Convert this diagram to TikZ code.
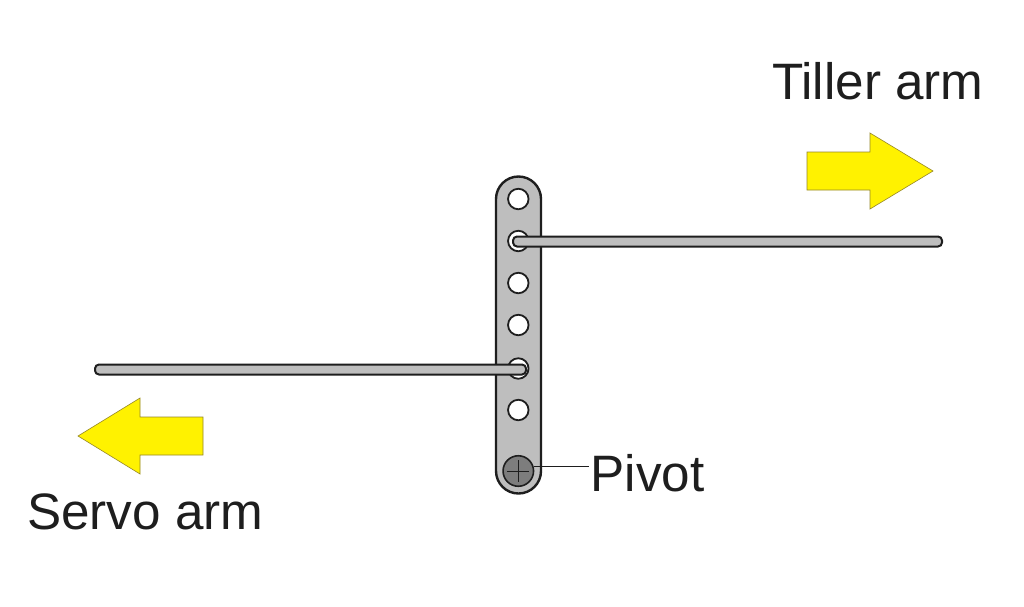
\documentclass[tikz,border=0pt]{standalone}
\usepackage{fontspec}
\setmainfont{Liberation Sans}
\definecolor{armgray}{RGB}{190,190,190}
\definecolor{pivotgray}{RGB}{125,125,125}
\definecolor{inkblack}{RGB}{30,30,30}
\definecolor{arrowyellow}{RGB}{255,242,0}
\definecolor{arrowedge}{RGB}{150,135,40}
\tikzset{
  hole/.style={circle,draw=inkblack,line width=1.8pt,fill=white,minimum size=20.5pt,inner sep=0pt},
  rod/.style={rounded corners=4pt,draw=inkblack,line width=2pt,fill=armgray},
  bigarrow/.style={draw=arrowedge,line width=0.6pt,fill=arrowyellow},
  label/.style={anchor=base west,inner sep=0pt,font=\fontsize{51.2pt}{52pt}\selectfont,text=inkblack},
}
\begin{document}
\begin{tikzpicture}[x=1pt,y=-1pt]
\useasboundingbox (0,0) rectangle (1024,606);
\fill[white] (0,0) rectangle (1024,606);
% plate
\draw[draw=inkblack,line width=2.4pt,fill=armgray] (496,199) arc[start angle=180,end angle=360,radius=22.5] -- (541,471) arc[start angle=0,end angle=180,radius=22.5] -- cycle;
\node[hole] (h1) at (518.3,199) {};
\node[hole] (h2) at (518.3,241) {};
\node[hole] (h3) at (518.3,283) {};
\node[hole] (h4) at (518.3,325) {};
\node[hole] (h5) at (518.3,368.5) {};
\node[hole] (h6) at (518.3,410) {};
\node[circle,draw=inkblack,line width=1.6pt,fill=pivotgray,minimum size=30.5pt,inner sep=0pt] (pv) at (518.3,471) {};
\draw[inkblack,line width=1pt] (pv.center) ++(-11,0) -- ++(22,0);
\draw[inkblack,line width=1pt] (pv.center) ++(0,-11) -- ++(0,22);
% rods
\draw[rod] (513,236.5) rectangle (942,246.5);
\draw[rod] (95,364.5) rectangle (526,374.5);
% arrows
\draw[bigarrow] (807,152) -- (870,152) -- (870,133) -- (933,171) -- (870,209) -- (870,190) -- (807,190) -- cycle;
\draw[bigarrow] (203,417) -- (140,417) -- (140,398) -- (78,436) -- (140,474) -- (140,455) -- (203,455) -- cycle;
% labels
\node[label] (tiller) at (772,99.7) {Tiller arm};
\node[label] (servo) at (27,529.7) {Servo arm};
\node[label] (pivot) at (590.5,491) {Pivot};
\coordinate (leadend) at (589,466.5);
\draw[inkblack,line width=0.8pt] (pv.east |- leadend) -- (leadend);
\end{tikzpicture}
\end{document}
